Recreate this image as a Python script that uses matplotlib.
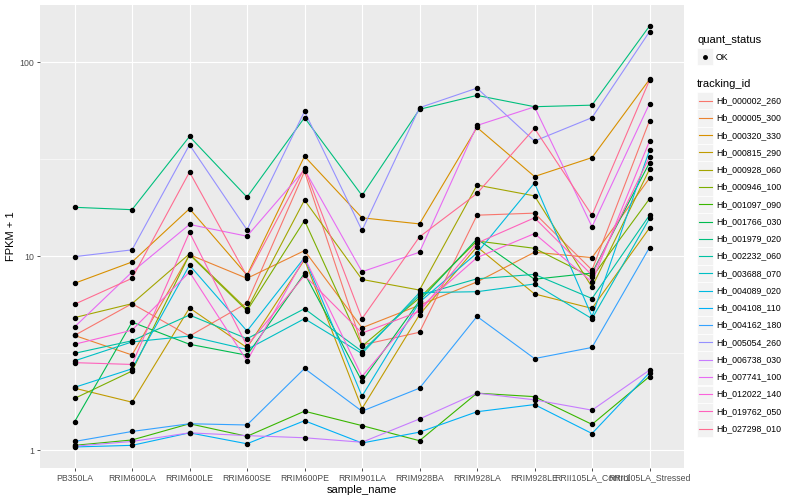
import matplotlib
matplotlib.use("Agg")
import matplotlib.pyplot as plt
import numpy as np
from matplotlib.lines import Line2D
from matplotlib.patches import Rectangle

samples = ["PB350LA", "RRIM600LA", "RRIM600LE", "RRIM600SE", "RRIM600PE", "RRIM901LA",
           "RRIM928BA", "RRIM928LA", "RRIM928LE", "RRII105LA_Control", "RRII105LA_Stressed"]

tracking_ids = ["Hb_000002_260", "Hb_000005_300", "Hb_000320_330", "Hb_000815_290", "Hb_000928_060",
                "Hb_000946_100", "Hb_001097_090", "Hb_001766_030", "Hb_001979_020", "Hb_002232_060",
                "Hb_003688_070", "Hb_004089_020", "Hb_004108_110", "Hb_004162_180", "Hb_005054_260",
                "Hb_006738_030", "Hb_007741_100", "Hb_012022_140", "Hb_019762_050", "Hb_027298_010"]

colors = ["#F8766D", "#EA8331", "#D89000", "#C09B00", "#A3A500", "#7CAE00", "#39B600", "#00BB4E",
          "#00BF7D", "#00C1A3", "#00BFC4", "#00BAE0", "#00B0F6", "#35A2FF", "#9590FF", "#C77CFF",
          "#E76BF3", "#FA62DB", "#FF62BC", "#FF6C91"]

# FPKM + 1 per sample (same order as samples)
hb_000002_260 = [3.91, 5.7, 3.88, 5.74, 27.4, 3.49, 4.06, 16.3, 16.7, 8.5, 50.1]
hb_000005_300 = [3.91, 3.10, 10.2, 7.7, 10.7, 4.28, 5.6, 7.38, 10.5, 9.85, 25.3]
hb_000320_330 = [7.26, 9.35, 17.6, 8.0, 32.8, 15.8, 14.7, 46.2, 25.8, 32.3, 81.7]
hb_000815_290 = [2.09, 1.77, 5.42, 3.38, 9.6, 1.64, 5.0, 11.2, 6.4, 5.39, 14.0]
hb_000928_060 = [4.83, 5.7, 10.3, 5.33, 19.5, 7.6, 6.7, 23.3, 20.5, 6.94, 28.1]
hb_000946_100 = [1.85, 2.56, 10.2, 5.24, 15.3, 3.44, 6.1, 12.0, 11.0, 7.8, 19.8]
hb_001097_090 = [1.06, 1.13, 1.37, 1.18, 1.59, 1.34, 1.12, 1.97, 1.89, 1.36, 2.40]
hb_001766_030 = [1.40, 4.58, 3.52, 3.09, 8.17, 2.27, 5.9, 12.3, 7.62, 8.2, 30.4]
hb_001979_020 = [17.9, 17.4, 41.5, 20.2, 51.9, 20.6, 57.3, 67.6, 59.1, 60.2, 154.0]
hb_002232_060 = [3.16, 3.67, 4.98, 3.76, 5.37, 3.23, 6.3, 7.66, 8.07, 6.06, 16.3]
hb_003688_070 = [2.89, 3.62, 3.88, 3.31, 4.77, 3.15, 6.5, 6.57, 7.2, 4.77, 15.7]
hb_004089_020 = [2.11, 2.63, 9.0, 4.12, 9.85, 1.90, 5.8, 10.4, 23.9, 4.89, 35.3]
hb_004108_110 = [1.04, 1.06, 1.23, 1.08, 1.42, 1.09, 1.24, 1.58, 1.72, 1.22, 2.51]
hb_004162_180 = [1.11, 1.25, 1.37, 1.35, 2.64, 1.59, 2.09, 4.9, 2.97, 3.39, 11.1]
hb_005054_260 = [9.96, 10.8, 37.6, 13.7, 55.9, 13.6, 58.4, 73.7, 39.3, 51.9, 144.0]
hb_006738_030 = [1.05, 1.11, 1.23, 1.19, 1.16, 1.10, 1.45, 1.97, 1.82, 1.61, 2.59]
hb_007741_100 = [4.32, 8.3, 14.6, 12.7, 28.0, 8.33, 10.5, 47.3, 59.0, 14.2, 61.3]
hb_012022_140 = [3.52, 4.16, 8.3, 2.89, 9.85, 2.40, 5.4, 9.85, 13.1, 7.38, 39.3]
hb_019762_050 = [2.83, 2.77, 13.3, 3.45, 7.97, 4.02, 5.2, 11.7, 15.8, 8.0, 32.5]
hb_027298_010 = [5.66, 7.7, 27.2, 7.9, 28.5, 4.77, 12.6, 21.1, 45.7, 16.3, 81.0]

series = [hb_000002_260, hb_000005_300, hb_000320_330, hb_000815_290, hb_000928_060,
          hb_000946_100, hb_001097_090, hb_001766_030, hb_001979_020, hb_002232_060,
          hb_003688_070, hb_004089_020, hb_004108_110, hb_004162_180, hb_005054_260,
          hb_006738_030, hb_007741_100, hb_012022_140, hb_019762_050, hb_027298_010]

yticks = [1, 10, 100]
ytick_labels = ["1", "10", "100"]

plt.rcParams['font.family'] = ['Liberation Sans', 'DejaVu Sans']

W, H = 800, 500
fig = plt.figure(figsize=(8, 5), dpi=100)
fig.patch.set_facecolor("white")
L, R, T, B = 40, 684, 5, 468
ax = fig.add_axes([L / W, 1 - B / H, (R - L) / W, (B - T) / H])
ax.set_facecolor("#EBEBEB")

x = np.arange(len(samples))
for vals, c in zip(series, colors):
    ax.plot(x, vals, color=c, lw=0.8, zorder=3, solid_capstyle="butt")
for vals in series:
    ax.plot(x, vals, ls="none", marker="o", ms=2.9, color="black", zorder=4)

ax.set_yscale("log")
allv = np.log10(np.concatenate([np.array(s) for s in series]))
lo, hi = allv.min(), allv.max()
pad = 0.05 * (hi - lo)
ax.set_ylim(10 ** (lo - pad), 10 ** (hi + pad))
ax.set_xlim(-0.6, len(samples) - 1 + 0.6)

ax.set_yticks(yticks)
ax.set_yticklabels(ytick_labels)
ax.yaxis.set_minor_locator(matplotlib.ticker.FixedLocator([10 ** 0.5, 10 ** 1.5]))
ax.yaxis.set_minor_formatter(matplotlib.ticker.NullFormatter())
ax.set_xticks(x)
ax.set_xticklabels(samples)

ax.grid(True, which="major", color="white", lw=0.85)
ax.grid(True, which="minor", axis="y", color="white", lw=0.4)
ax.set_axisbelow(True)
for s in ax.spines.values():
    s.set_visible(False)
ax.tick_params(axis="both", which="major", length=2.5, width=0.6, color="#333333",
               labelcolor="#4D4D4D", labelsize=6.3, pad=1.5)
ax.tick_params(axis="y", which="minor", length=0)

ax.set_xlabel("sample_name", fontsize=8, color="black", labelpad=2)
ax.set_ylabel("FPKM + 1", fontsize=8, color="black", labelpad=3)

# Legend (manual, ggplot-like)
def fx(px):
    return px / W

def fy(py):
    return 1 - py / H

fig.text(fx(697), fy(40), "quant_status", fontsize=8, va="center", ha="left")
fig.add_artist(Rectangle((fx(697), fy(65)), 16 / W, 17 / H, transform=fig.transFigure,
                         facecolor="#F2F2F2", edgecolor="white", lw=0.5))
fig.add_artist(Line2D([fx(705)], [fy(57)], transform=fig.transFigure, marker="o", ms=2.5,
                      color="black", ls="none"))
fig.text(fx(716), fy(57), "OK", fontsize=6.3, va="center", ha="left")

fig.text(fx(697), fy(84), "tracking_id", fontsize=8, va="center", ha="left")
y0, dy = 100.7, 17.26
for i, (tid, c) in enumerate(zip(tracking_ids, colors)):
    yc = y0 + i * dy
    fig.add_artist(Rectangle((fx(697), fy(yc + 8.6)), 16 / W, 17.2 / H, transform=fig.transFigure,
                             facecolor="#F2F2F2", edgecolor="white", lw=0.5))
    fig.add_artist(Line2D([fx(698.5), fx(711.5)], [fy(yc), fy(yc)], transform=fig.transFigure,
                          color=c, lw=0.8))
    fig.text(fx(716), fy(yc), tid, fontsize=6.3, va="center", ha="left")

fig.savefig("out.png", dpi=100)
